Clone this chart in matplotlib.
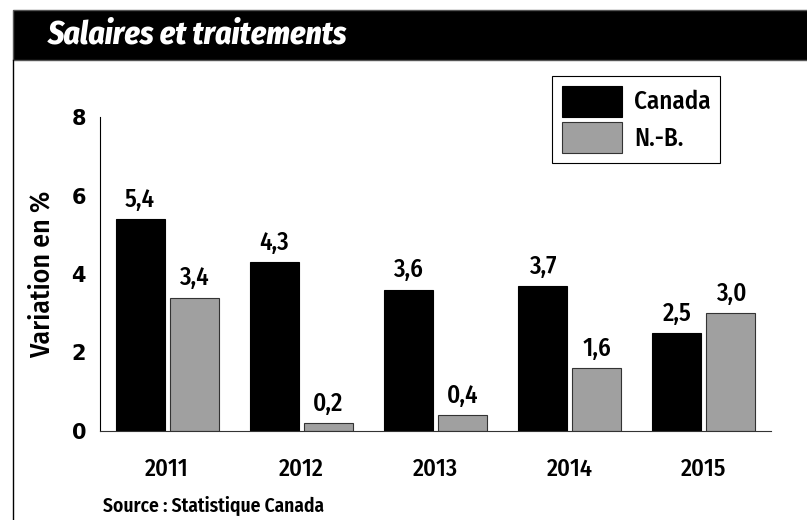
import matplotlib.pyplot as plt
import matplotlib.patches as mpatches
import numpy as np

# Données
annees = ['2011', '2012', '2013', '2014', '2015']
canada = [5.4, 4.3, 3.6, 3.7, 2.5]
nb = [3.4, 0.2, 0.4, 1.6, 3.0]
yticks = [0, 2, 4, 6, 8]

cond = ['Fira Sans Condensed', 'DejaVu Sans']

fig = plt.figure(figsize=(8.07, 5.20), dpi=100)

# Bandeau du titre
fig.patches.append(mpatches.Rectangle((13 / 807, 1 - 60 / 520), 1, 50 / 520,
                                      transform=fig.transFigure, facecolor='black',
                                      edgecolor='#555555', linewidth=1))
fig.text(48 / 807, 1 - 35 / 520, 'Salaires et traitements', color='white',
         fontsize=22.8, fontweight=800, fontstyle='italic', family=cond,
         va='center', ha='left')
# Bordure gauche
fig.add_artist(plt.Line2D([13 / 807, 13 / 807], [0, 1 - 60 / 520],
                          transform=fig.transFigure, color='black', linewidth=1))

ax = fig.add_axes([100 / 807, 89 / 520, 671 / 807, 314 / 520])

x = np.arange(len(annees))
w = 0.366
off = 0.2015
b1 = ax.bar(x - off, canada, w, color='black', edgecolor='black', linewidth=0.8, label='Canada')
b2 = ax.bar(x + off, nb, w, color='#a0a0a0', edgecolor='#333333', linewidth=0.8, label='N.-B.')

for bars, vals in ((b1, canada), (b2, nb)):
    for r, v in zip(bars, vals):
        ax.text(r.get_x() + r.get_width() / 2, v + 0.18, f'{v:.1f}'.replace('.', ','),
                ha='center', va='bottom', fontsize=18, fontweight=500, family=cond)

ax.set_xlim(-0.5, 4.5)
ax.set_ylim(0, 8)
ax.set_yticks(yticks)
ax.set_yticklabels([str(t) for t in yticks], fontsize=15, fontweight='bold', family='DejaVu Sans')
ax.set_xticks(x)
ax.set_xticklabels(annees, fontsize=17.5, fontweight=500, family=cond)
ax.tick_params(axis='both', length=0)
ax.tick_params(axis='y', pad=10)
ax.tick_params(axis='x', pad=19)
ax.spines['top'].set_visible(False)
ax.spines['right'].set_visible(False)
ax.spines['left'].set_linewidth(0.8)
ax.spines['bottom'].set_linewidth(0.8)
ax.spines['bottom'].set_color('#333333')

ax.set_ylabel('Variation en %', fontsize=20, fontweight=500, family=cond, labelpad=12)

leg = ax.legend(loc='upper left', bbox_to_anchor=(452 / 671, 1 + 41 / 314),
                prop={'family': cond, 'size': 18, 'weight': 500},
                handlelength=2.4, handleheight=1.55, labelspacing=0.2,
                handletextpad=0.5, borderpad=0.38, borderaxespad=0,
                fancybox=False, edgecolor='black', framealpha=1)
leg.get_frame().set_linewidth(0.8)

fig.text(103 / 807, 14 / 520, 'Source : Statistique Canada', fontsize=14,
         fontweight=600, family=cond, va='center', ha='left')

fig.savefig('out.png', dpi=100)
